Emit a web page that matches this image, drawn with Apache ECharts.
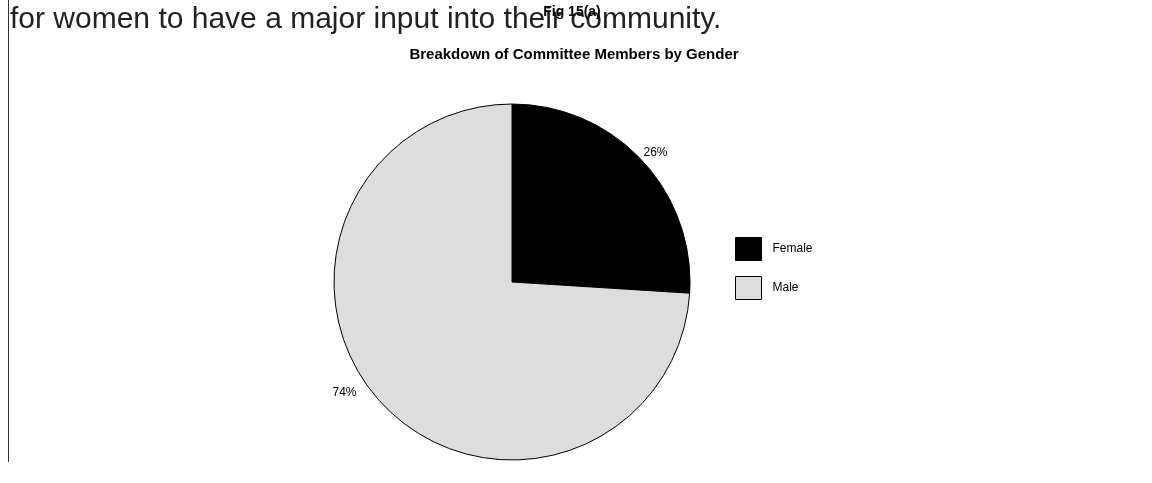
<!DOCTYPE html>
<html>
<head>
<meta charset="utf-8">
<script src="https://cdn.jsdelivr.net/npm/echarts@6/dist/echarts.min.js"></script>
<style>
  html, body { margin: 0; padding: 0; background: #fff; }
  #chart { width: 1152px; height: 483px; }
</style>
</head>
<body>
<div id="chart"></div>
<script>
// data
var genders = ['Female', 'Male'];
var shares = [26, 74];
var sliceColors = ['#000000', '#dddddd'];

var myChart = echarts.init(document.getElementById('chart'));
var pieData = genders.map(function (g, i) {
    return { name: g, value: shares[i], itemStyle: { color: sliceColors[i] } };
});

var option = {
    backgroundColor: '#fff',
    animation: false,
    textStyle: { fontFamily: 'Liberation Sans, Arial, sans-serif' },
    title: [{
        text: 'Fig 15(a)',
        left: 567, top: 0,
        textAlign: 'center',
        textStyle: { fontSize: 14, fontWeight: 'bold', color: '#000' }
    }, {
        text: 'Breakdown of Committee Members by Gender',
        left: 569, top: 42,
        textAlign: 'center',
        textStyle: { fontSize: 15, fontWeight: 'bold', color: '#000' }
    }],
    // page text behind the chart
    graphic: [{
        type: 'line',
        shape: { x1: 8.5, y1: 0, x2: 8.5, y2: 462 },
        style: { stroke: '#333', lineWidth: 1 },
        z: -1
    }, {
        type: 'text',
        left: 10, top: 5,
        style: {
            text: 'for women to have a major input into their community.',
            font: '30px Liberation Sans, Arial, sans-serif',
            fill: '#222'
        },
        z: -1
    }],
    legend: {
        orient: 'vertical',
        left: 735, top: 237,
        padding: 0,
        icon: 'rect',
        itemWidth: 26, itemHeight: 23,
        itemGap: 15,
        data: genders,
        itemStyle: { borderColor: '#000', borderWidth: 1 },
        textStyle: { fontSize: 12, color: '#000', padding: [0, 0, 0, 6] }
    },
    series: [{
        type: 'pie',
        center: [512, 282],
        radius: 178,
        startAngle: 90,
        clockwise: true,
        data: pieData,
        itemStyle: { borderColor: '#000', borderWidth: 1 },
        label: {
            show: true,
            position: 'outside',
            formatter: '{d}%',
            fontSize: 12,
            color: '#000'
        },
        labelLine: { show: false, length: 12, length2: 0 },
        labelLayout: function (p) {
            return p.dataIndex === 0 ? { dx: -12, dy: 1 } : { dx: -12, dy: -19 };
        },
        emphasis: { disabled: true }
    }]
};
myChart.setOption(option);
window.addEventListener('resize', function () {
    myChart.resize();
});
</script>
</body>
</html>
